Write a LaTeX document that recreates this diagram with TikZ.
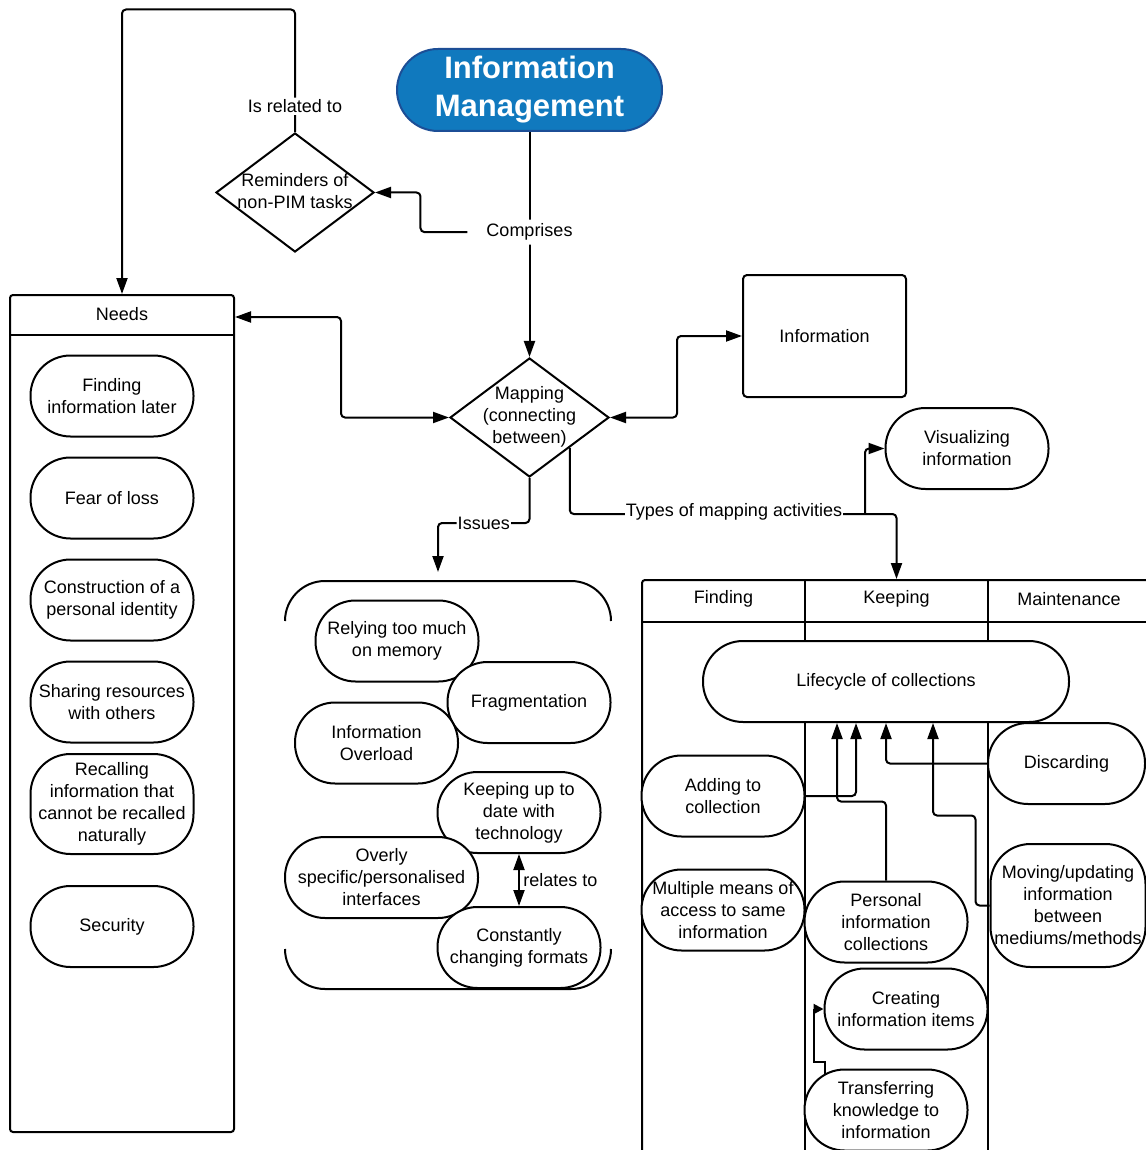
\documentclass[tikz,border=0pt]{standalone}
\usepackage{fontspec}
\setmainfont{Liberation Sans}
\usetikzlibrary{shapes.geometric,arrows.meta}
\definecolor{imblue}{RGB}{16,121,190}
\definecolor{imedge}{RGB}{28,78,150}

\begin{document}
\begin{tikzpicture}[x=1pt,y=-1pt,line width=2pt,
    font=\fontsize{18}{22}\selectfont,
    >={Triangle[length=16pt,width=11pt]},
    conn/.style={->,rounded corners=4pt},
    conn2/.style={<->,rounded corners=4pt},
    item/.style={draw,fill=white,rounded corners=40pt,minimum width=163pt,minimum height=81pt,inner sep=0pt,align=center},
    dia/.style={draw,fill=white,diamond,minimum width=158pt,minimum height=119pt,inner sep=0pt},
    lbl/.style={fill=white,inner sep=2pt}]
    \useasboundingbox (0,0) rectangle (1145,1150);

    \node [draw=imedge,fill=imblue,text=white,rounded corners=41pt,minimum width=265pt,minimum height=82pt,inner sep=0pt,align=center,font=\bfseries\fontsize{31}{38}\selectfont] (IM) at (529.5,90) {Information\\Management};
    \node [dia,label={[align=center,yshift=1pt]center:Reminders of\\non-PIM tasks}] (REM) at (295,192.5) {};
    \node [dia,minimum width=159pt,label={[align=center,yshift=1pt]center:Mapping\\(connecting\\between)}] (MAP) at (529.5,417.5) {};
    \node [draw,rounded corners=4pt,minimum width=163pt,minimum height=122pt] (INFO) at (824.5,336) {Information};
    \node [item] (VIS) at (967,448.5) {Visualizing\\information};

    \node [draw,rounded corners=3pt,minimum width=224pt,minimum height=837pt,inner sep=0pt,label={[anchor=north,minimum height=38pt,inner sep=0pt]north:Needs}] (NEEDS) at (122,713.5) {};
    \draw (NEEDS.north west) ++(0,41) -- ++(224,0);
    \node [item] (N1) at (112,396) {Finding\\information later};
    \node [item] (N2) at (112,498) {Fear of loss};
    \node [item] (N3) at (112,600) {Construction of a\\personal identity};
    \node [item] (N4) at (112,702) {Sharing resources\\with others};
    \node [item,minimum height=100pt] (N5) at (112,804) {Recalling\\information that\\cannot be recalled\\naturally};
    \node [item] (N6) at (112,926.5) {Security};

    \draw (285,621) arc [start angle=180,end angle=90,radius=40pt] -- (571,581) arc [start angle=90,end angle=0,radius=40pt];
    \draw (285,949) arc [start angle=180,end angle=270,radius=40pt] -- (571,989) arc [start angle=270,end angle=360,radius=40pt];
    \node [item] (I1) at (397,641) {Relying too much\\on memory};
    \node [item] (I2) at (529,702.5) {Fragmentation};
    \node [item] (I3) at (376.5,743) {Information\\Overload};
    \node [item] (I4) at (519,812.5) {Keeping up to\\date with\\technology};
    \node [item,minimum width=193pt] (I5) at (381.5,877.5) {Overly\\specific/personalised\\interfaces};
    \node [item] (I6) at (519,947.5) {Constantly\\changing formats};

    \draw [rounded corners=3pt] (642,1150) -- (642,580) -- (1146,580);
    \draw (642,622) -- (1146,622);
    \draw (805,580) -- (805,1150);
    \draw (988,580) -- (988,1150);
    \node [minimum width=163pt,minimum height=42pt] (FH) at (723.5,599) {Finding};
    \node [minimum width=183pt,minimum height=38pt] (KH) at (896.5,599) {Keeping};
    \node [minimum height=38pt] (MH) at (1069,599) {Maintenance};
    \node [item,minimum width=366pt] (LC) at (886,681.5) {Lifecycle of collections};
    \node [item] (ADD) at (723,796) {Adding to\\collection};
    \node [item] (MMA) at (723,910) {Multiple means of\\access to same\\information};
    \node [item] (PIC) at (886,922) {Personal\\information\\collections};
    \node [item] (CRE) at (906,1009) {Creating\\information items};
    \node [item] (TRA) at (886,1110) {Transferring\\knowledge to\\information};
    \node [item,minimum width=157pt] (DIS) at (1066.5,763.5) {Discarding};
    \node [item,minimum width=155pt,minimum height=123pt] (MOV) at (1068,905.5) {Moving/updating\\information\\between\\mediums/methods};

    \draw [conn] (IM) -- node [lbl,pos=0.445,inner sep=4pt] (COMP) {Comprises} (MAP);
    \draw [conn] ([xshift=-14pt]COMP.west) -- ++(-47,0) |- (REM.east);
    \draw [conn] (REM.north) -- node [lbl,pos=0.21] {Is related to} ++(0,-122.5) -| (NEEDS.north);
    \draw [conn2] (MAP.west) -- ++(-108,0) |- ([yshift=-23pt]NEEDS.north east);
    \draw [conn2] (MAP.east) -- ++(67,0) |- (INFO.west);

    \coordinate (J) at (865,514);
    \draw [conn] (MAP.south east) |- (J) -| (KH.north);
    \draw [conn] (J) |- (VIS.west);
    \node [lbl,inner sep=1pt] (TYP) at (734,512) {Types of mapping activities};

    \coordinate (ISS) at (438,572);
    \draw [conn] (MAP.south) -- ++(0,45) -| node [lbl,pos=0.25,inner sep=1pt] {Issues} (ISS);
    \draw [conn2] (I4.south) -- node [right] {relates to} (I6.north);

    \draw [conn] (ADD.east) -| ([xshift=-30pt]LC.south);
    \draw [conn] (PIC.north) -- ++(0,-79) -| ([xshift=-49pt]LC.south);
    \draw [conn] (DIS.west) -| (LC.south);
    \draw [conn] (MOV.west) -| ++(-14,-90) -| ([xshift=47pt]LC.south);
    \draw [-{Triangle[length=10pt,width=10pt]}] ([xshift=-61pt,yshift=-5pt]TRA.north) -- ++(0,-12) -- ++(-11,0) |- (CRE.west);
\end{tikzpicture}
\end{document}
